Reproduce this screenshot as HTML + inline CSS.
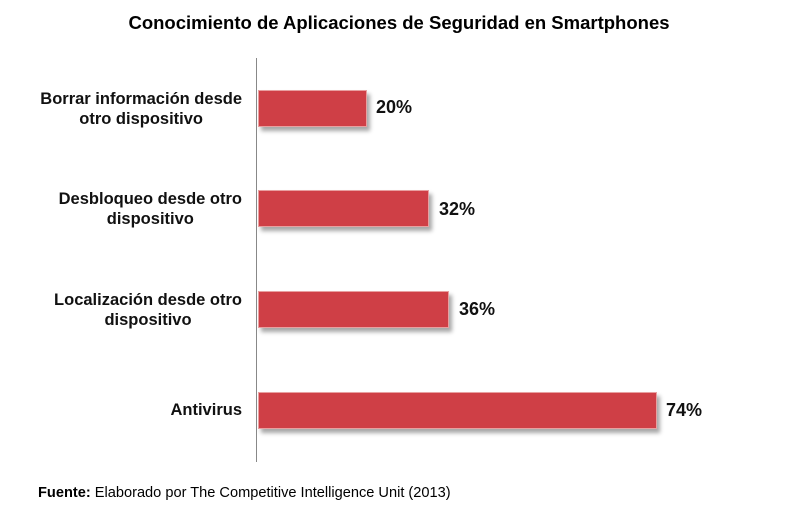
<!DOCTYPE html>
<html><head><meta charset="utf-8"><style>
body{margin:0;width:798px;height:522px;background:#fff;position:relative;font-family:"Liberation Sans",sans-serif;overflow:hidden}
.t{position:absolute;left:0;width:798px;top:12px;text-align:center;font-weight:bold;font-size:18.5px;color:#000}
.ax{position:absolute;left:256px;top:58px;width:1px;height:404px;background:#888}
.bar{position:absolute;left:258px;height:37px;background:#cf3f46;border:1px solid #e8a0a0;box-shadow:3px 4px 4px rgba(0,0,0,.35);box-sizing:border-box}
.v{position:absolute;font-weight:bold;font-size:18px;color:#111}
.l{position:absolute;right:556px;font-weight:bold;font-size:16.5px;color:#111;text-align:center;line-height:20px;white-space:nowrap}
.f{position:absolute;left:38px;top:485px;font-size:14.6px;color:#000}
</style></head><body>
<div class="t">Conocimiento de Aplicaciones de Seguridad en Smartphones</div>
<div class="ax"></div>
<div class="bar" style="top:90px;width:109px"></div><div class="v" style="left:376px;top:97px">20%</div>
<div class="bar" style="top:190px;width:171px"></div><div class="v" style="left:439px;top:199px">32%</div>
<div class="bar" style="top:291px;width:191px"></div><div class="v" style="left:459px;top:299px">36%</div>
<div class="bar" style="top:392px;width:399px"></div><div class="v" style="left:666px;top:400px">74%</div>
<div class="l" style="top:89px">Borrar información desde<br>otro dispositivo</div>
<div class="l" style="top:189px">Desbloqueo desde otro<br>dispositivo</div>
<div class="l" style="top:290px">Localización desde otro<br>dispositivo</div>
<div class="l" style="top:400px">Antivirus</div>
<div class="f"><b>Fuente:</b> Elaborado por The Competitive Intelligence Unit (2013)</div>
</body></html>
